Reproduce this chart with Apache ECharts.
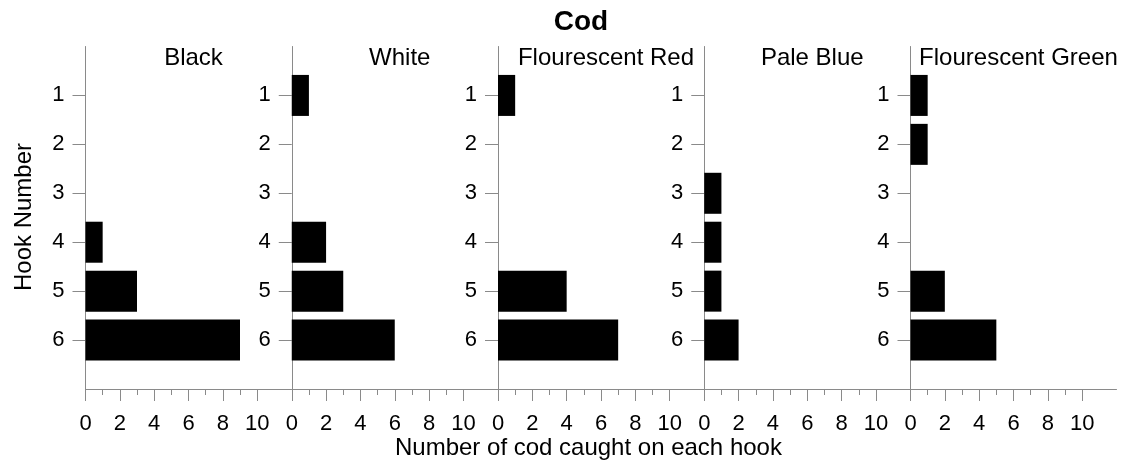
<!DOCTYPE html>
<html>
<head>
<meta charset="utf-8">
<script src="https://cdn.jsdelivr.net/npm/echarts@6/dist/echarts.min.js"></script>
<style>
  html, body { margin: 0; padding: 0; background: #fff; }
  #chart { width: 1127px; height: 468px; }
</style>
</head>
<body>
<div id="chart"></div>
<script>
// ---- data ----
const chartTitle = 'Cod';
const hookNumbers = ['1', '2', '3', '4', '5', '6'];
const panelNames = ['Black', 'White', 'Flourescent Red', 'Pale Blue', 'Flourescent Green'];
const blackValues = [0, 0, 0, 1, 3, 9];
const whiteValues = [1, 0, 0, 2, 3, 6];
const redValues = [1, 0, 0, 0, 4, 7];
const paleBlueValues = [0, 0, 1, 1, 1, 2];
const greenValues = [1, 1, 0, 0, 2, 5];
const xMajorTicks = [0, 2, 4, 6, 8, 10];
const xMinorTicks = [1, 3, 5, 7, 9];
const xAxisName = 'Number of cod caught on each hook';
const yAxisName = 'Hook Number';

const panelValues = [blackValues, whiteValues, redValues, paleBlueValues, greenValues];

// ---- layout ----
const FONT = '"Liberation Sans", Arial, Helvetica, sans-serif';
const axisGray = '#8a8a8a';
const gridTop = 46.5, gridHeight = 342.5;
const firstLeft = 85.5, step = 206.25, gridWidth = 206;

const yCats = [''].concat(hookNumbers, ['']);

const grids = [], xAxes = [], yAxes = [], series = [], titles = [];
titles.push({
  text: chartTitle, left: 576, top: 3, textAlign: 'center',
  textStyle: { fontFamily: FONT, fontSize: 28, fontWeight: 'bold', color: '#000' }
});

panelNames.forEach((name, i) => {
  const left = firstLeft + step * i;
  grids.push({ left: left, top: gridTop, width: gridWidth, height: gridHeight, containLabel: false });
  titles.push({
    text: name, left: left + 103, top: 41, textAlign: 'center',
    textStyle: { fontFamily: FONT, fontSize: 24, fontWeight: 'normal', color: '#000' }
  });
  // main x axis with major ticks and labels
  xAxes.push({
    type: 'value', gridIndex: i, min: 0, max: 12, interval: 2, position: 'bottom',
    axisLine: { show: true, lineStyle: { color: axisGray, width: 1 } },
    axisTick: { show: true, length: 12, customValues: xMajorTicks, lineStyle: { color: axisGray } },
    axisLabel: { show: true, customValues: xMajorTicks, margin: 24, fontFamily: FONT, fontSize: 22, color: '#000' },
    splitLine: { show: false }
  });
  // overlay x axis for minor ticks
  xAxes.push({
    type: 'value', gridIndex: i, min: 0, max: 12, interval: 2, position: 'bottom', offset: 0,
    axisLine: { show: false },
    axisTick: { show: true, length: 6, customValues: xMinorTicks, lineStyle: { color: axisGray } },
    axisLabel: { show: false },
    splitLine: { show: false }
  });
  yAxes.push({
    type: 'category', gridIndex: i, data: yCats, inverse: true, boundaryGap: false,
    axisLine: { show: true, lineStyle: { color: axisGray, width: 1 } },
    axisTick: { show: true, length: 13, lineStyle: { color: axisGray },
      interval: (idx) => idx > 0 && idx < yCats.length - 1 },
    axisLabel: { show: true, margin: 21, fontFamily: FONT, fontSize: 22, color: '#000',
      interval: (idx) => idx > 0 && idx < yCats.length - 1 },
    splitLine: { show: false }
  });
  series.push({
    type: 'bar', xAxisIndex: i * 2, yAxisIndex: i,
    data: [null].concat(panelValues[i], [null]),
    barWidth: 41,
    itemStyle: { color: '#000' },
    silent: true
  });
});

const chart = echarts.init(document.getElementById('chart'), null, { renderer: 'canvas' });
chart.setOption({
  backgroundColor: '#fff',
  animation: false,
  title: titles,
  grid: grids,
  xAxis: xAxes,
  yAxis: yAxes,
  series: series,
  graphic: [
    {
      type: 'text', left: 395, top: 436,
      style: { text: xAxisName, font: '24px ' + FONT, fill: '#000' }
    },
    {
      type: 'text', x: 24, y: 217, rotation: Math.PI / 2,
      style: { text: yAxisName, font: '24px ' + FONT, fill: '#000', align: 'center', verticalAlign: 'middle' }
    }
  ]
});
</script>
</body>
</html>
